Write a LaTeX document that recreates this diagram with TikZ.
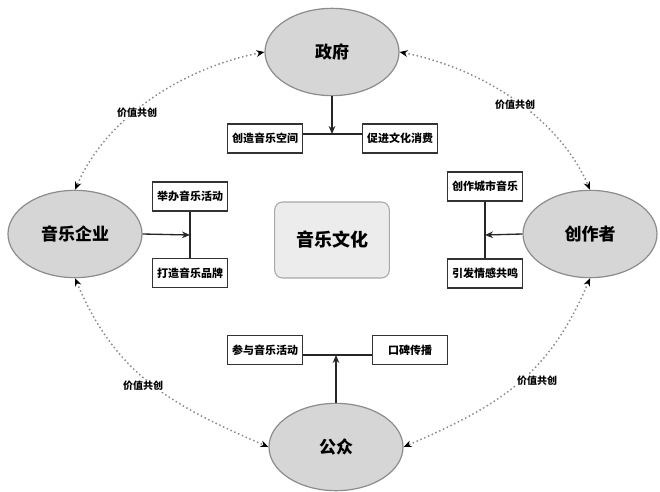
\documentclass[tikz,border=0pt]{standalone}
\usepackage{fontspec}
\setmainfont{Noto Sans CJK SC}
\usetikzlibrary{shapes.geometric,arrows.meta}
\definecolor{ellfill}{HTML}{D6D6D6}
\definecolor{ellline}{HTML}{8C8C8C}
\definecolor{ctrfill}{HTML}{ECECEC}
\definecolor{ctrline}{HTML}{A8A8A8}
\definecolor{boxline}{HTML}{333333}
\definecolor{dotline}{HTML}{8A8A8A}
\tikzset{
  actor/.style={ellipse, draw=ellline, fill=ellfill, line width=0.9pt, inner sep=0pt,
    minimum width=100.5pt, minimum height=65.5pt, font=\fontsize{12.75pt}{14pt}\selectfont\bfseries},
  core/.style={rounded corners=6pt, draw=ctrline, fill=ctrfill, line width=0.8pt, inner sep=0pt,
    minimum width=86pt, minimum height=57pt, font=\fontsize{13.5pt}{15pt}\selectfont\bfseries},
  actbox/.style={draw=boxline, fill=white, line width=1.1pt, inner sep=0pt,
    minimum width=56.5pt, minimum height=21.75pt, font=\fontsize{8.25pt}{10pt}\selectfont\bfseries},
  flow/.style={draw=black!85, line width=1pt},
  flowarr/.style={flow, -{Stealth[length=6pt,width=5pt]}},
  cocreate/.style={draw=dotline, line width=1.1pt, dotted, {Stealth[length=6pt,width=5pt,black]}-{Stealth[length=6pt,width=5pt,black]}},
  vlabel/.style={fill=white, inner sep=1pt, font=\fontsize{7.5pt}{9pt}\selectfont\bfseries}
}
\begin{document}
\begin{tikzpicture}[x=0.75pt,y=-0.75pt]
\useasboundingbox (0,0) rectangle (660,492);
% main actors
\node[actor] (gov) at (332,52) {政府};
\node[actor] (ent) at (75,234) {音乐企业};
\node[actor] (cre) at (590,234) {创作者};
\node[actor] (pub) at (336,447) {公众};
\node[core] (ctr) at (332,240) {音乐文化};
% boxes
\node[actbox] (b1) at (265,138.5) {创造音乐空间};
\node[actbox] (b2) at (400,138.5) {促进文化消费};
\node[actbox] (b3) at (190,196.5) {举办音乐活动};
\node[actbox] (b4) at (190,273) {打造音乐品牌};
\node[actbox] (b5) at (485,186.5) {创作城市音乐};
\node[actbox] (b6) at (485,273.5) {引发情感共鸣};
\node[actbox] (b7) at (265,350) {参与音乐活动};
\node[actbox] (b8) at (410,350) {口碑传播};
% junctions
\coordinate (j1) at (332,134);
\coordinate (j2) at (190,235);
\coordinate (j3) at (485,235);
\coordinate (j4) at (336,355);
% flows
\draw[flow] (b1.east |- j1) -- (b2.west |- j1);
\draw[flowarr] (gov.south) -- (j1);
\draw[flow] (b3.south) -- (b4.north);
\draw[flowarr] (ent.east) -- (j2);
\draw[flow] (b5.south) -- (b6.north);
\draw[flowarr] (cre.west) -- (j3);
\draw[flow] (b7.east |- j4) -- (b8.west |- j4);
\draw[flowarr] (pub.north) -- (j4);
% value co-creation arcs
\draw[cocreate] (gov.west) .. controls +(-77,15) and +(33,-76) .. (ent.north);
\draw[cocreate] (gov.east) .. controls +(77,15) and +(-33,-76) .. (cre.north);
\draw[cocreate] (ent.south) .. controls +(41,97) and +(-97,-42) .. (pub.west);
\draw[cocreate] (cre.south) .. controls +(-41,97) and +(97,-42) .. (pub.east);
\node[vlabel] (l1) at (137,113) {价值共创};
\node[vlabel] (l2) at (515,105) {价值共创};
\node[vlabel] (l3) at (143,386) {价值共创};
\node[vlabel] (l4) at (537,381) {价值共创};
\end{tikzpicture}
\end{document}
